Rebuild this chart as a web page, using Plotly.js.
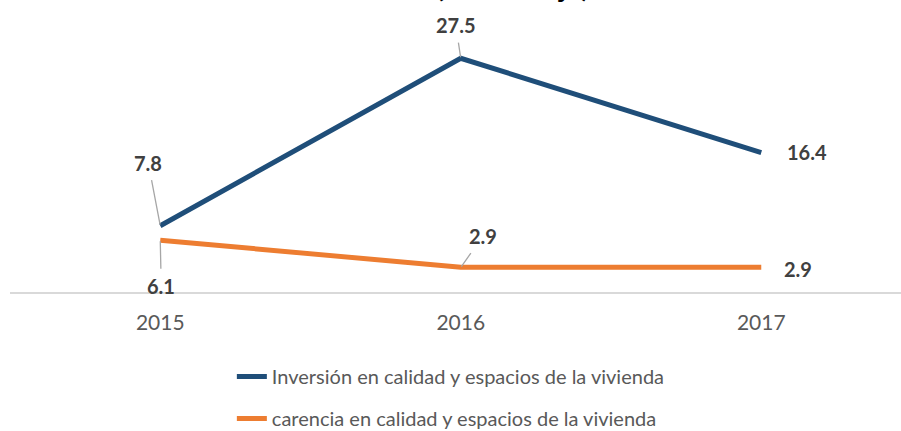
<!DOCTYPE html>
<html>
<head>
<meta charset="utf-8">
<script src="https://cdn.plot.ly/plotly-3.0.1.min.js"></script>
<style>
html,body{margin:0;padding:0;background:#fff;}
#chart{width:901px;height:431px;}
</style>
</head>
<body>
<div id="chart"></div>
<script>
// Data
const years = ['2015', '2016', '2017'];
const inversion = [7.8, 27.5, 16.4];
const carencia = [6.1, 2.9, 2.9];
const seriesNames = ['Inversión en calidad y espacios de la vivienda', 'carencia en calidad y espacios de la vivienda'];
const titleText = '(Porcentaje)';

// label offsets (pixels) for data labels, per point
const invLabelOffsets = [[-12, -63, true], [-5, -33, true], [46, -1, false]];
const carLabelOffsets = [[1, 46, true], [22, -31, true], [37, 2, false]];

const labelFont = {family: 'Lato, "Open Sans", sans-serif', size: 20, color: '#404040', weight: 'bold'};

function makeLabels(vals, offs) {
  return vals.map((v, i) => ({
    x: i, y: v, xref: 'x', yref: 'y',
    text: '<b>' + v.toFixed(1) + '</b>',
    font: labelFont,
    showarrow: true,
    ax: offs[i][0], ay: offs[i][1],
    arrowhead: 0, arrowwidth: offs[i][2] ? 1.3 : 0.01,
    arrowcolor: offs[i][2] ? '#a6a6a6' : 'rgba(0,0,0,0)',
    startstandoff: 4, standoff: 1
  }));
}

const traces = [
  {x: years.map((_, i) => i), y: inversion, type: 'scatter', mode: 'lines', name: seriesNames[0],
   line: {color: '#1F4E79', width: 5}, legendgroup: 'a', hoverinfo: 'skip'},
  {x: years.map((_, i) => i), y: carencia, type: 'scatter', mode: 'lines', name: seriesNames[1],
   line: {color: '#ED7D31', width: 5}, legendgroup: 'b', hoverinfo: 'skip'}
];

const annotations = makeLabels(inversion, invLabelOffsets).concat(makeLabels(carencia, carLabelOffsets));
annotations.push({
  xref: 'paper', yref: 'paper', x: (512 - 10) / 891, y: 1.127, xanchor: 'center', yanchor: 'bottom',
  text: '<b>' + titleText + '</b>', showarrow: false,
  font: {family: 'Lato, sans-serif', size: 29, color: '#000000'}
});

const layout = {
  width: 901, height: 431,
  margin: {l: 10, r: 0, t: 37, b: 139, pad: 0, autoexpand: false},
  paper_bgcolor: '#ffffff', plot_bgcolor: '#ffffff',
  font: {family: 'Lato, "Open Sans", sans-serif', color: '#595959'},
  xaxis: {
    range: [-0.5, 2.465], tickmode: 'array', tickvals: years.map((_, i) => i), ticktext: years,
    showgrid: false, zeroline: false, showline: true, linecolor: '#d9d9d9', linewidth: 2,
    ticks: '', ticklabelstandoff: 11, automargin: false,
    tickfont: {family: 'Lato, sans-serif', size: 21, color: '#595959'},
    fixedrange: true
  },
  yaxis: {
    range: [0, 30], visible: false, showgrid: false, zeroline: false, fixedrange: true, automargin: false
  },
  showlegend: true,
  legend: {
    orientation: 'v', x: 0.249, xanchor: 'left', y: -0.255, yanchor: 'top',
    font: {family: 'Lato, sans-serif', size: 20, color: '#595959'},
    tracegroupgap: 13, bgcolor: 'rgba(0,0,0,0)'
  },
  annotations: annotations
};

Plotly.newPlot('chart', traces, layout, {displayModeBar: false, staticPlot: true});
</script>
</body>
</html>
